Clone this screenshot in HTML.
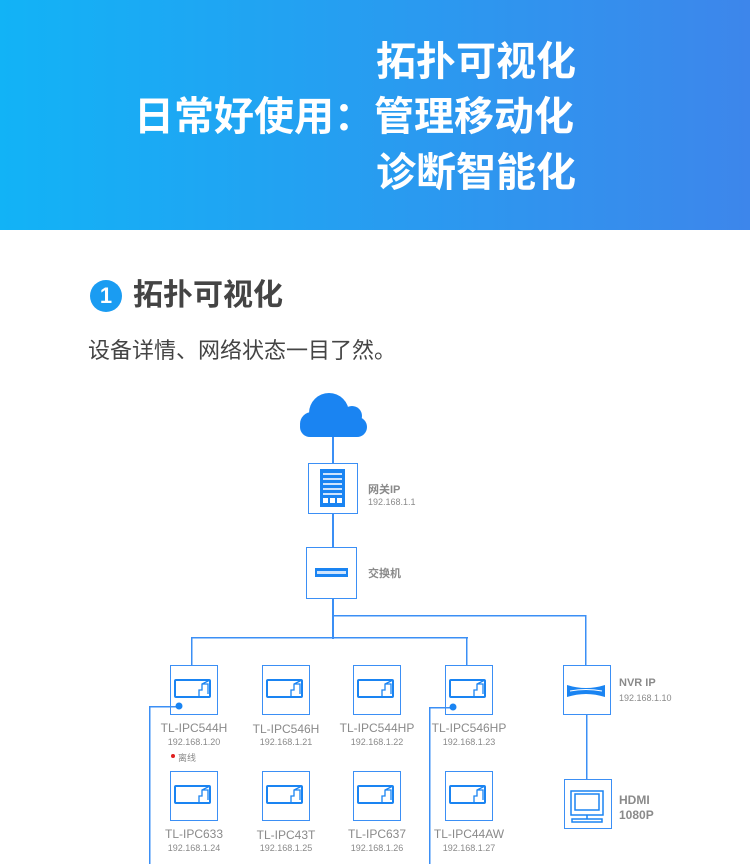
<!DOCTYPE html>
<html><head><meta charset="utf-8"><style>
*{margin:0;padding:0;box-sizing:border-box}
body{width:750px;height:864px;position:relative;background:#fff;font-family:"Liberation Sans","Noto Sans CJK SC",sans-serif;overflow:hidden}
.hdr{position:absolute;left:0;top:0;width:750px;height:230px;background:linear-gradient(90deg,#12b3f6,#3d86eb)}
.ht{position:absolute;color:#fff;font-weight:bold;font-size:40px;line-height:48px;white-space:nowrap}
.a{position:absolute}
.box{position:absolute;border:1.5px solid #3b8ff5;background:#fff}
.nm{position:absolute;width:120px;text-align:center;color:#8a8a8a;font-size:12px}
.ip{position:absolute;width:120px;text-align:center;color:#8a8a8a;font-size:9px}
.lb{position:absolute;color:#8a8a8a;font-size:11px;font-weight:bold}
.lb2{position:absolute;color:#8a8a8a;font-size:9px}
</style></head><body>
<div class="hdr"></div>
<div class="ht" style="left:376px;top:38px">拓扑可视化</div>
<div class="ht" style="left:134px;top:93px">日常好使用：管理移动化</div>
<div class="ht" style="left:376px;top:149px">诊断智能化</div>

<div class="a" style="left:90px;top:280px;width:32px;height:32px;border-radius:50%;background:#1a9cf2;color:#fff;font-weight:bold;font-size:22px;text-align:center;line-height:32px">1</div>
<div class="a" style="left:133px;top:276px;font-size:30px;font-weight:bold;color:#444;line-height:40px">拓扑可视化</div>
<div class="a" style="left:88px;top:336px;font-size:22px;color:#444;line-height:30px">设备详情、网络状态一目了然。</div>

<div class="box" style="left:308px;top:463px;width:50px;height:51px"><svg width="47" height="48"><rect x="11" y="5" width="25" height="38" fill="#1a84f2"/><g fill="#cfe4fd"><rect x="14" y="9" width="19" height="2"/><rect x="14" y="14" width="19" height="2"/><rect x="14" y="19" width="19" height="2"/><rect x="14" y="24" width="19" height="2"/><rect x="14" y="29" width="19" height="2"/></g><g fill="#fff"><rect x="14" y="34" width="5" height="5"/><rect x="21" y="34" width="5" height="5"/><rect x="28" y="34" width="5" height="5"/></g></svg></div>
<div class="lb" style="left:368px;top:481px">网关IP</div>
<div class="lb2" style="left:368px;top:497px">192.168.1.1</div>

<div class="box" style="left:306px;top:547px;width:51px;height:52px"><svg width="48" height="49"><rect x="8" y="20" width="33" height="9" fill="#1a84f2"/><rect x="10" y="23" width="29" height="3" fill="#cfe4fd"/></svg></div>
<div class="lb" style="left:368px;top:565px">交换机</div>

<div class="box" style="left:170px;top:665px;width:48px;height:50px"></div>
<div class="box" style="left:262px;top:665px;width:48px;height:50px"></div>
<div class="box" style="left:353px;top:665px;width:48px;height:50px"></div>
<div class="box" style="left:445px;top:665px;width:48px;height:50px"></div>
<div class="box" style="left:170px;top:771px;width:48px;height:50px"></div>
<div class="box" style="left:262px;top:771px;width:48px;height:50px"></div>
<div class="box" style="left:353px;top:771px;width:48px;height:50px"></div>
<div class="box" style="left:445px;top:771px;width:48px;height:50px"></div>

<svg class="a" style="left:0;top:0" width="750" height="864">
<g fill="#1a84f2">
<circle cx="312" cy="424" r="12"/><circle cx="310" cy="427" r="10"/><circle cx="329" cy="413" r="20"/><circle cx="352" cy="416" r="10"/><circle cx="357" cy="427" r="10"/><rect x="310" y="418" width="47" height="19"/>
</g>
<g fill="#3b8ff5">
<rect x="332" y="437" width="2" height="26"/>
<rect x="332" y="514" width="2" height="33"/>
<rect x="332" y="599" width="2" height="40"/>
<rect x="191" y="637" width="277" height="1.5"/>
<rect x="333" y="615" width="253" height="1.5"/>
<rect x="191" y="637" width="1.5" height="28"/>
<rect x="466" y="637" width="1.5" height="28"/>
<rect x="585" y="615" width="1.5" height="50"/>
<rect x="586" y="714" width="1.5" height="65"/>
<rect x="149" y="706" width="30" height="1.5"/>
<rect x="149" y="706" width="1.5" height="160"/>
<rect x="429" y="707" width="24" height="1.5"/>
<rect x="429" y="707" width="1.5" height="160"/>
<circle cx="179" cy="706" r="3.5" fill="#1a84f2"/><circle cx="453" cy="707" r="3.5" fill="#1a84f2"/>
<circle cx="173" cy="756" r="2" fill="#e02020"/>
</g>
<g fill="none" stroke="#1a84f2" stroke-width="2">
<defs><g id="cam"><rect x="5" y="15" width="35" height="17" rx="1"/><path d="M29 32 v-7 h3 v-6 l8-4 M32 19 h6 v10 M38 19 v9" stroke-width="1.3"/></g></defs>
<use href="#cam" x="170" y="665"/><use href="#cam" x="262" y="665"/><use href="#cam" x="353" y="665"/><use href="#cam" x="445" y="665"/>
<use href="#cam" x="170" y="771"/><use href="#cam" x="262" y="771"/><use href="#cam" x="353" y="771"/><use href="#cam" x="445" y="771"/>
</g>
</svg>
<div class="nm" style="left:134px;top:721px">TL-IPC544H</div><div class="ip" style="left:134px;top:737px">192.168.1.20</div>
<div class="nm" style="left:226px;top:722px">TL-IPC546H</div><div class="ip" style="left:226px;top:737px">192.168.1.21</div>
<div class="nm" style="left:317px;top:721px">TL-IPC544HP</div><div class="ip" style="left:317px;top:737px">192.168.1.22</div>
<div class="nm" style="left:409px;top:721px">TL-IPC546HP</div><div class="ip" style="left:409px;top:737px">192.168.1.23</div>
<div class="lb2" style="left:178px;top:751px">离线</div>
<div class="nm" style="left:134px;top:827px">TL-IPC633</div><div class="ip" style="left:134px;top:843px">192.168.1.24</div>
<div class="nm" style="left:226px;top:828px">TL-IPC43T</div><div class="ip" style="left:226px;top:843px">192.168.1.25</div>
<div class="nm" style="left:317px;top:827px">TL-IPC637</div><div class="ip" style="left:317px;top:843px">192.168.1.26</div>
<div class="nm" style="left:409px;top:827px">TL-IPC44AW</div><div class="ip" style="left:409px;top:843px">192.168.1.27</div>

<div class="box" style="left:563px;top:665px;width:48px;height:50px"><svg width="45" height="47"><path d="M3 19 Q22 25 41 19 V31 Q22 25 3 31Z" fill="#1a84f2"/><path d="M6 25 Q22 22 38 25" stroke="#fff" stroke-width="1" fill="none"/></svg></div>
<div class="lb" style="left:619px;top:677px">NVR IP</div>
<div class="lb2" style="left:619px;top:693px">192.168.1.10</div>

<div class="box" style="left:564px;top:779px;width:48px;height:50px"><svg width="45" height="47" fill="none" stroke="#1a84f2" stroke-width="1.5"><rect x="6" y="11" width="32" height="24"/><rect x="10" y="14" width="24" height="16"/><path d="M22 35 v4"/><rect x="7" y="39" width="30" height="3"/></svg></div>
<div class="lb" style="left:619px;top:793px;font-size:12px">HDMI</div>
<div class="lb" style="left:619px;top:808px;font-size:12px">1080P</div>
</body></html>
